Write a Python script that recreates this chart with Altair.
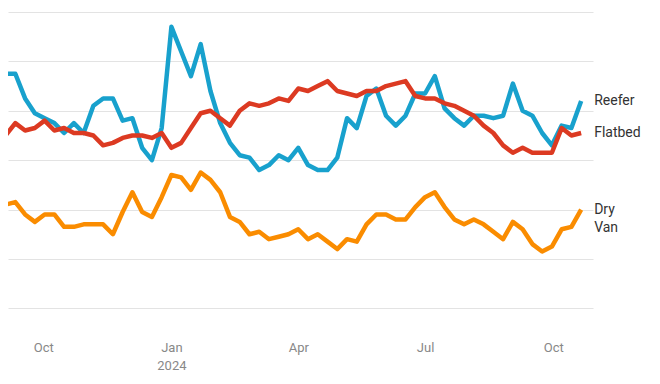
import altair as alt
import pandas as pd

# Weekly observation dates (Mondays)
dates = pd.date_range("2023-08-28", periods=61, freq="7D").strftime("%Y-%m-%d").tolist()

series_names = ["Reefer", "Flatbed", "Dry Van"]
series_labels = ["Reefer", "Flatbed", "Dry\nVan"]
series_colors = ["#18a1cd", "#dc3a22", "#fa8c00"]

reefer = [2.70, 2.75, 2.75, 2.65, 2.59, 2.57, 2.55, 2.51, 2.55, 2.51, 2.62, 2.65, 2.65,
          2.56, 2.57, 2.45, 2.40, 2.53, 2.94, 2.84, 2.74, 2.87, 2.68, 2.55, 2.47, 2.42,
          2.41, 2.36, 2.38, 2.42, 2.40, 2.45, 2.38, 2.36, 2.36, 2.41, 2.57, 2.53, 2.66,
          2.69, 2.58, 2.54, 2.58, 2.67, 2.67, 2.74, 2.61, 2.57, 2.54, 2.58, 2.58, 2.57,
          2.58, 2.71, 2.60, 2.58, 2.51, 2.46, 2.54, 2.53, 2.64]
flatbed = [2.50, 2.50, 2.55, 2.52, 2.53, 2.56, 2.52, 2.53, 2.51, 2.51, 2.50, 2.46, 2.47,
           2.49, 2.50, 2.50, 2.49, 2.51, 2.45, 2.47, 2.53, 2.59, 2.60, 2.57, 2.54, 2.60,
           2.63, 2.62, 2.63, 2.65, 2.64, 2.69, 2.68, 2.70, 2.72, 2.68, 2.67, 2.66, 2.68,
           2.68, 2.70, 2.71, 2.72, 2.66, 2.65, 2.65, 2.63, 2.62, 2.60, 2.58, 2.54, 2.51,
           2.46, 2.43, 2.45, 2.43, 2.43, 2.43, 2.53, 2.50, 2.51]
dry_van = [2.14, 2.22, 2.23, 2.18, 2.15, 2.18, 2.18, 2.13, 2.13, 2.14, 2.14, 2.14, 2.10,
           2.19, 2.27, 2.19, 2.17, 2.25, 2.34, 2.33, 2.28, 2.35, 2.32, 2.27, 2.17, 2.15,
           2.10, 2.11, 2.08, 2.09, 2.10, 2.12, 2.08, 2.10, 2.07, 2.04, 2.08, 2.07, 2.14,
           2.18, 2.18, 2.16, 2.16, 2.21, 2.25, 2.27, 2.21, 2.16, 2.14, 2.16, 2.14, 2.11,
           2.08, 2.15, 2.12, 2.06, 2.03, 2.05, 2.12, 2.13, 2.20]

grid_values = [1.8, 2.0, 2.2, 2.4, 2.6, 2.8, 3.0]

rows = []
for name, vals in zip(series_names, [reefer, flatbed, dry_van]):
    for d, v in zip(dates, vals):
        rows.append({"date": d, "series": name, "value": v})
df = pd.DataFrame(rows)

labels_df = pd.DataFrame({
    "date": [dates[-1]] * 3,
    "series": series_names,
    "value": [reefer[-1], flatbed[-1], dry_van[-1]],
    "label": series_labels,
})

x_scale = alt.Scale(
    type="utc",
    domain=[
        alt.DateTime(year=2023, month=9, date=5, hours=17, minutes=46, utc=True),
        alt.DateTime(year=2024, month=10, date=29, hours=12, utc=True),
    ],
)
tick_vals = [
    alt.DateTime(year=2023, month=10, date=1, utc=True),
    alt.DateTime(year=2024, month=1, date=1, utc=True),
    alt.DateTime(year=2024, month=4, date=1, utc=True),
    alt.DateTime(year=2024, month=7, date=1, utc=True),
    alt.DateTime(year=2024, month=10, date=1, utc=True),
]

x_enc = alt.X(
    "date:T",
    scale=x_scale,
    axis=alt.Axis(
        values=tick_vals,
        grid=False, domain=False, ticks=False, title=None,
        labelPadding=8, labelFontSize=13, labelFont="Roboto", labelColor="#888888",
        labelLineHeight=18, labelFlush=False, labelOverlap=False,
        labelExpr="utcmonth(datum.value) == 0 ? [utcFormat(datum.value, '%b'), utcFormat(datum.value, '%Y')] : utcFormat(datum.value, '%b')",
    ),
)
y_enc = alt.Y(
    "value:Q",
    scale=alt.Scale(domain=[1.7, 3.0], nice=False, zero=False),
    axis=alt.Axis(values=grid_values, labels=False, ticks=False, domain=False,
                  title=None, gridColor="#e3e3e3", gridWidth=1),
)
color_enc = alt.Color("series:N", scale=alt.Scale(domain=series_names, range=series_colors), legend=None)

lines = alt.Chart(df).mark_line(strokeWidth=4.5, clip=True, strokeJoin="round").encode(
    x=x_enc, y=y_enc, color=color_enc,
)

texts = alt.Chart(labels_df).mark_text(
    align="left", baseline="middle", dx=13, fontSize=14, font="Roboto",
    color="#333333", lineBreak="\n", lineHeight=18,
).encode(
    x=alt.X("date:T", scale=x_scale),
    y=alt.Y("value:Q"),
    text="label:N",
)

chart = alt.layer(lines, texts).properties(
    width=585, height=321,
    padding={"left": 0, "top": 4, "right": 59, "bottom": 40},
    autosize=alt.AutoSizeParams(type="none"),
).configure_view(stroke=None)

chart.save("out.html", embed_options={"renderer": "svg", "actions": False})
